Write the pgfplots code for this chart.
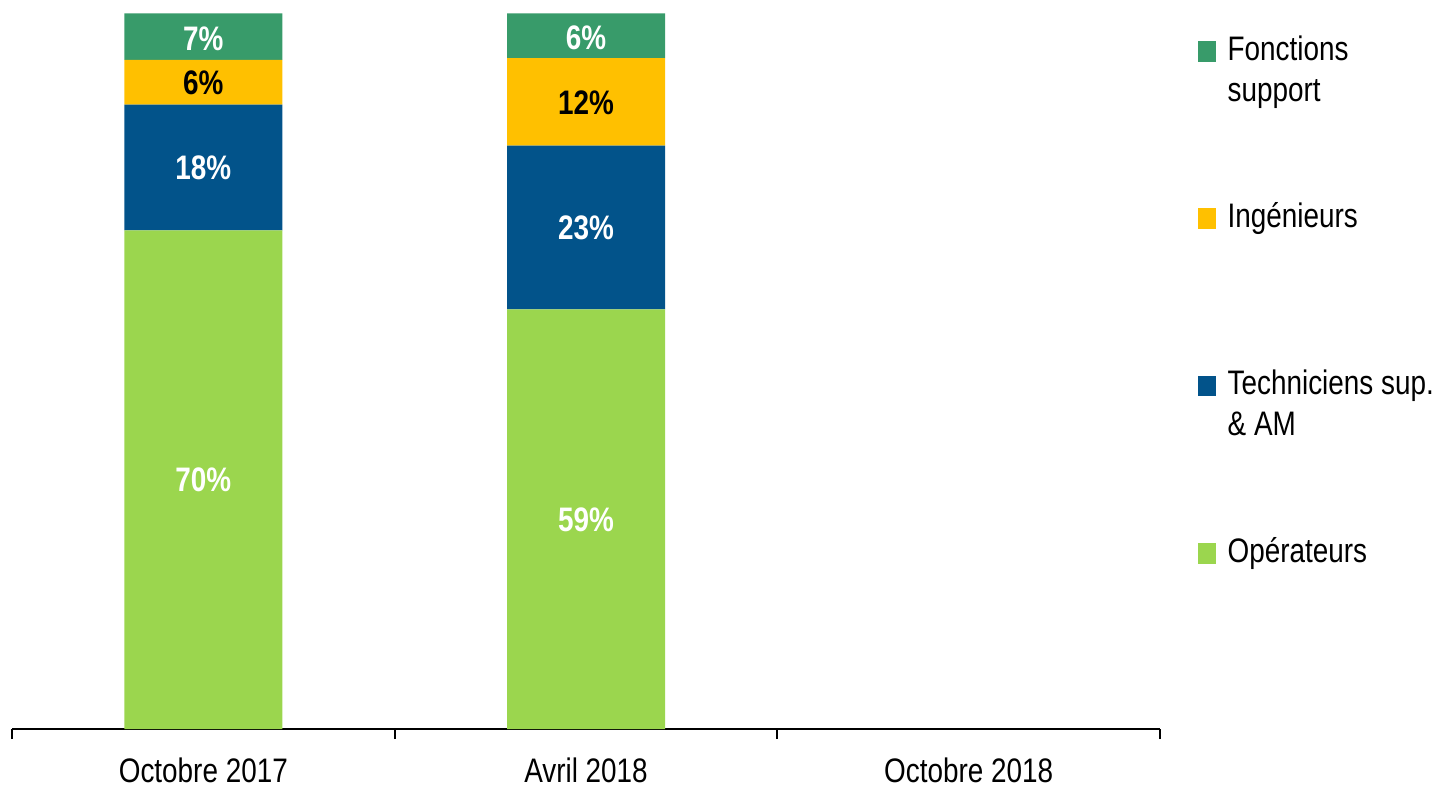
\documentclass[border=0pt]{standalone}
\usepackage{fontspec}
\setmainfont{Liberation Sans}[FakeStretch=0.82]
\usepackage{pgfplots}
\pgfplotsset{compat=1.18}

\definecolor{cfs}{RGB}{56,155,106}
\definecolor{cing}{RGB}{255,192,0}
\definecolor{ctech}{RGB}{2,83,138}
\definecolor{cop}{RGB}{155,214,78}

\newcommand{\chartfont}{\fontsize{17}{20.5}\selectfont}

\begin{document}
\begin{tikzpicture}
\path[use as bounding box] (0,0) rectangle (725.5pt,396.5pt);
\begin{axis}[
  at={(6pt,32pt)}, anchor=south west,
  scale only axis, width=574pt, height=357.85pt,
  xmin=-0.5, xmax=2.5, ymin=0, ymax=100,
  ybar stacked, bar width=79pt,
  axis x line*=bottom, axis y line=none,
  axis line style={line width=1pt, black},
  xtick={0,1,2},
  xticklabels={Octobre 2017, Avril 2018, Octobre 2018},
  minor xtick={-0.5,0.5,1.5,2.5},
  major tick length=0pt, minor tick length=5pt, tick align=outside,
  minor tick style={line width=1pt, black},
  xticklabel style={font=\chartfont, anchor=base, inner sep=0pt, yshift=-26.85pt},
  legend style={
    at={(1.03336,0.96116)}, anchor=north west,
    draw=none, fill=none, inner sep=0pt, outer sep=0pt,
    font=\chartfont,
    row sep=72.6pt, column sep=5.85pt,
    nodes={inner sep=0pt},
  },
  legend cell align=left,
  reverse legend,
]
\addplot[fill=cop, draw=none, legend image code/.code={\fill[cop] (0pt,0pt) rectangle (8.85pt,10.3pt);}]
  coordinates {(0,69.68) (1,58.64)};
\addlegendentry{\smash{Opérateurs}}
\addplot[fill=ctech, draw=none, legend image code/.code={\fill[ctech] (0pt,0pt) rectangle (8.85pt,10.3pt);}]
  coordinates {(0,17.55) (1,22.86)};
\addlegendentry{\smash{\begin{tabular}[t]{@{}l@{}}Techniciens sup.\\\& AM\end{tabular}}}
\addplot[fill=cing, draw=none, legend image code/.code={\fill[cing] (0pt,0pt) rectangle (8.85pt,10.3pt);}]
  coordinates {(0,6.25) (1,12.25)};
\addlegendentry{\smash{Ingénieurs}}
\addplot[fill=cfs, draw=none, legend image code/.code={\fill[cfs] (0pt,0pt) rectangle (8.85pt,10.3pt);}]
  coordinates {(0,6.52) (1,6.25)};
\addlegendentry{\smash{\begin{tabular}[t]{@{}l@{}}Fonctions\\support\end{tabular}}}
\end{axis}

\begin{axis}[
  at={(6pt,32pt)}, anchor=south west,
  scale only axis, width=574pt, height=357.85pt,
  xmin=-0.5, xmax=2.5, ymin=0, ymax=100,
  hide axis, clip=false,
  nodes near coords, point meta=explicit symbolic,
  every node near coord/.style={anchor=center, inner sep=0pt, text height=12.2pt, text depth=0pt, font=\chartfont\bfseries},
]
\addplot[draw=none, mark=none, every node near coord/.append style={text=white}]
  coordinates {(0,34.84) [70\%] (0,78.455) [18\%] (0,96.46) [7\%]
               (1,29.32) [59\%] (1,70.07) [23\%] (1,96.7) [6\%]};
\addplot[draw=none, mark=none, every node near coord/.append style={text=black}]
  coordinates {(0,90.355) [6\%] (1,87.625) [12\%]};
\end{axis}
\end{tikzpicture}
\end{document}
